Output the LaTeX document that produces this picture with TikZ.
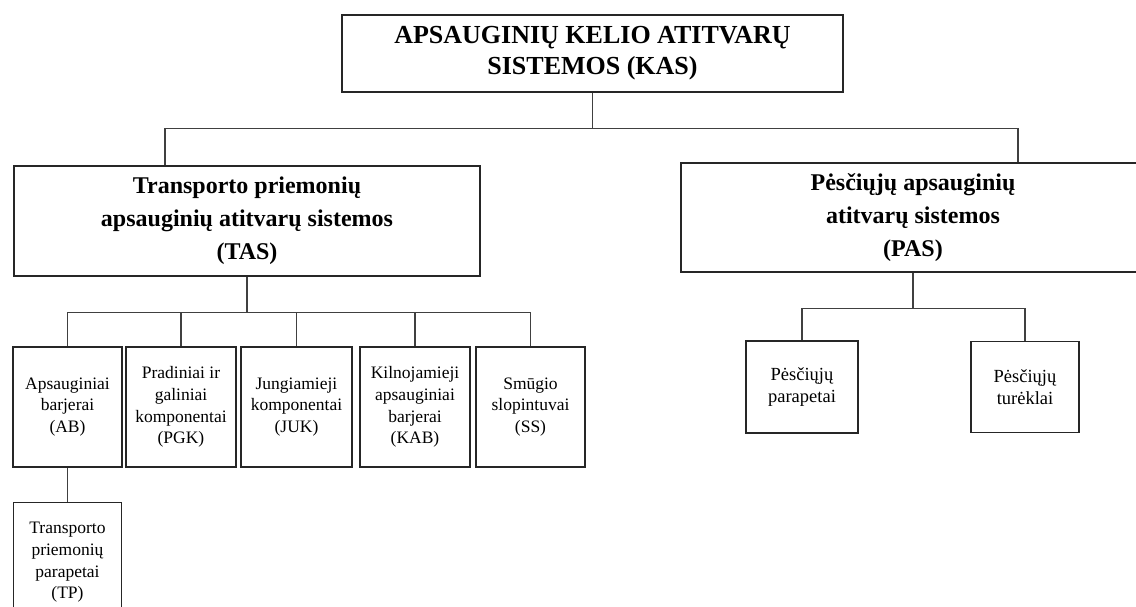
\documentclass[tikz,border=0pt]{standalone}
\usepackage{fontspec}
\setmainfont{Liberation Serif}
\usetikzlibrary{positioning}

\begin{document}
\begin{tikzpicture}[x=1pt, y=-1pt,
        topnode/.style={rectangle, draw=black!85, line width=1.6pt, inner sep=0pt, align=center, font=\fontsize{26}{31}\selectfont\bfseries},
        groupnode/.style={rectangle, draw=black!85, line width=1.6pt, inner sep=0pt, align=center, font=\fontsize{24}{33}\selectfont\bfseries},
        itemnode/.style={rectangle, draw=black!85, line width=1.5pt, inner sep=0pt, align=center, minimum width=109pt, minimum height=120pt, font=\fontsize{17.5}{21.7}\selectfont},
        link/.style={draw=black!75, line width=1.2pt},
]
        \path[use as bounding box, fill=white] (0,0) rectangle (1136,607);

        \node[topnode, minimum width=501pt, minimum height=77pt] (kas) at (592.5,53.5) {APSAUGINIŲ KELIO ATITVARŲ\\SISTEMOS (KAS)};
        \node[groupnode, minimum width=466pt, minimum height=110pt] (tas) at (247,221) {Transporto priemonių\\apsauginių atitvarų sistemos\\(TAS)};
        \node[groupnode, minimum width=464pt, minimum height=109pt] (pas) at (913,217.5) {Pėsčiųjų apsauginių\\atitvarų sistemos\\(PAS)};

        \node[itemnode] (ab) at (67.5,407) {Apsauginiai\\barjerai\\(AB)};
        \node[itemnode, minimum width=110pt] (pgk) [right=2.5pt of ab] {Pradiniai ir\\galiniai\\komponentai\\(PGK)};
        \node[itemnode, minimum width=111pt] (juk) [right=3.5pt of pgk] {Jungiamieji\\komponentai\\(JUK)};
        \node[itemnode, minimum width=110pt] (kab) [right=6.5pt of juk] {Kilnojamieji\\apsauginiai\\barjerai\\(KAB)};
        \node[itemnode] (ss) [right=4.5pt of kab] {Smūgio\\slopintuvai\\(SS)};
        \node[itemnode, minimum width=108pt] (tp) [below=34pt of ab] {Transporto\\priemonių\\parapetai\\(TP)};

        \node[itemnode, minimum width=112pt, minimum height=92pt, font=\fontsize{18.5}{21.7}\selectfont] (pp) at (802,387) {Pėsčiųjų\\parapetai};
        \node[itemnode, minimum width=108pt, minimum height=91pt, font=\fontsize{18.5}{21.7}\selectfont] (pt) [right=111.5pt of pp] {Pėsčiųjų\\turėklai};

        \draw[link] (kas.south) -- ++(0,36) coordinate (kasbus);
        \draw[link] ([xshift=-82pt]tas.north) |- (kasbus) -| ([xshift=105pt]pas.north);

        \draw[link] (tas.south) -- ++(0,36) coordinate (tasbus);
        \foreach \item in {ab,pgk,juk,kab,ss}
            \draw[link] (tasbus) -| (\item.north);
        \draw[link] (ab.south) -- (tp.north);

        \draw[link] (pas.south) -- ++(0,36) coordinate (pasbus);
        \draw[link] (pasbus) -| (pp.north);
        \draw[link] (pasbus) -| (pt.north);
\end{tikzpicture}
\end{document}
